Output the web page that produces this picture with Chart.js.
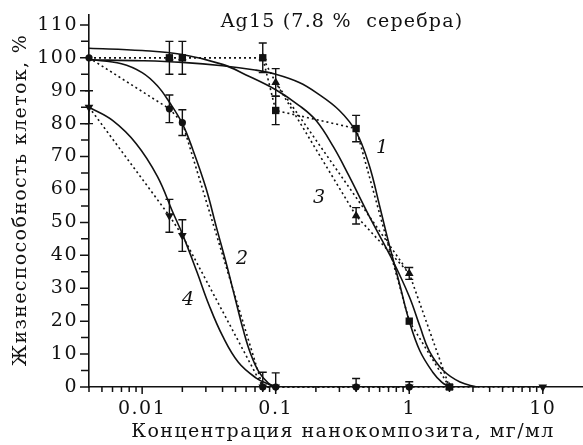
<!DOCTYPE html>
<html><head><meta charset="utf-8">
<script src="https://cdn.jsdelivr.net/npm/chart.js@4"></script>
<style>html,body{margin:0;padding:0;background:#fff;overflow:hidden}canvas{display:block}</style>
</head><body><canvas id="c" width="583" height="445" style="width:583px;height:445px"></canvas>
<script>
// ---- data ----
const conc  = [0.004, 0.016, 0.02, 0.08, 0.1, 0.4, 1, 2, 10];
const viab1 = [100, 100, 100, 100, 84, 78.5, 20, 0];          // squares (1)
const err1  = [0, 5, 5, 4.5, 4.3, 4, 0, 0];
const viab2 = [100, 84.5, 80.3, 0, 0, 0, 0];                  // circles (2)
const err2  = [0, 4.2, 3.9, 4.5, 4.3, 2.6, 1.6];
const viab3 = [100, 100, 100, 100, 92.5, 52, 34.5, 0];        // triangles (3)
const err3  = [0, 0, 0, 0, 4.2, 2.5, 1.8, 0];
const conc3b = [0.1, 1];
const viab3b = [92.5, 34.5];                                   // second dotted link of series 3
const viab4 = [85, 52, 46, 0, 0, 0, 0, 0, 0];                 // inverted triangles (4)
const err4  = [5, 5, 4.8, 0, 0, 0, 0, 0, 0];

const fit1X = [0.004, 0.01, 0.02, 0.04, 0.07, 0.1, 0.15, 0.2, 0.3, 0.4, 0.5, 0.6, 0.7, 0.85, 1.0, 1.2, 1.5, 1.75, 2.0];
const fit1Y = [99.4, 99.1, 98.6, 97.6, 96.3, 95, 92.5, 89.5, 84, 77.5, 67.5, 55, 44, 31, 20, 11, 4.5, 1.5, 0];
const fit2X = [0.004, 0.007, 0.01, 0.013, 0.016, 0.02, 0.024, 0.03, 0.036, 0.043, 0.05, 0.057, 0.065, 0.075, 0.088, 0.1];
const fit2Y = [99.5, 98.2, 95.5, 91.5, 86.5, 80, 72, 60.5, 48.5, 37, 26.5, 17.5, 10, 4.5, 1.2, 0];
const fit3X = [0.004, 0.01, 0.02, 0.04, 0.06, 0.1, 0.15, 0.2, 0.27, 0.35, 0.5, 0.75, 1.0, 1.2, 1.41, 1.8, 2.4, 3.2];
const fit3Y = [102.9, 102.2, 101, 98, 94.8, 90.3, 85.5, 81, 73, 64.5, 52, 38.5, 27.5, 18.5, 11, 5, 1.5, 0];
const fit4X = [0.004, 0.006, 0.009, 0.013, 0.017, 0.02, 0.0257, 0.0316, 0.04, 0.0525, 0.071, 0.09, 0.1];
const fit4Y = [85, 81, 74, 64, 53, 46.5, 35, 25, 15.5, 7.5, 2.8, 0.7, 0];

const xTickValues = [0.01, 0.1, 1, 10];
const xTickLabels = ['0.01', '0.1', '1', '10'];
const xMinorTicks = [0.004,0.005,0.006,0.007,0.008,0.009,0.02,0.03,0.04,0.05,0.06,0.07,0.08,0.09,
                     0.2,0.3,0.4,0.5,0.6,0.7,0.8,0.9,2,3,4,5,6,7,8,9];
const yTickValues = [0, 10, 20, 30, 40, 50, 60, 70, 80, 90, 100, 110];
const yMinorTicks = [5, 15, 25, 35, 45, 55, 65, 75, 85, 95, 105];

const curveNames = ['1', '2', '3', '4'];
const titleText = 'Ag15 (7.8 %  серебра)';
const xTitle = 'Концентрация нанокомпозита, мг/мл';
const yTitle = 'Жизнеспособность клеток, %';

// ---- helpers ----
const pts = (xs, ys) => ys.map((y, i) => ({x: xs[i], y}));
const FONT = '"DejaVu Serif", serif';

const labelAnchors = [ // data-space anchors for curve numbers
  {t: curveNames[0], x: 0.625, y: 72.5},
  {t: curveNames[1], x: 0.056, y: 39},
  {t: curveNames[2], x: 0.211, y: 57.5},
  {t: curveNames[3], x: 0.0221, y: 26.5}
];

const errorSets = [
  {xs: conc, ys: viab1, es: err1},
  {xs: conc, ys: viab2, es: err2},
  {xs: conc, ys: viab3, es: err3},
  {xs: conc, ys: viab4, es: err4}
];

const extras = {
  id: 'extras',
  beforeDraw(chart) { chart.ctx.letterSpacing = '1.5px'; },
  beforeDatasetsDraw(chart) {
    const {ctx, chartArea: a, scales: {x, y}} = chart;
    ctx.save();
    ctx.beginPath();
    ctx.rect(a.left - 20, 0, a.right - a.left + 40, a.bottom);
    ctx.clip();
    ctx.strokeStyle = '#111';
    ctx.lineWidth = 1.4;
    errorSets.forEach(s => {
      s.ys.forEach((v, i) => {
        const e = s.es[i];
        if (!e) return;
        const px = x.getPixelForValue(s.xs[i]);
        const t = y.getPixelForValue(v + e), b = y.getPixelForValue(v - e);
        ctx.beginPath();
        ctx.moveTo(px, t); ctx.lineTo(px, b);
        ctx.moveTo(px - 4, t); ctx.lineTo(px + 4, t);
        ctx.moveTo(px - 4, b); ctx.lineTo(px + 4, b);
        ctx.stroke();
      });
    });
    ctx.restore();
  },
  afterDraw(chart) {
    const {ctx, chartArea: a, scales: {x, y}} = chart;
    ctx.save();
    ctx.strokeStyle = '#111';
    ctx.lineWidth = 1.5;
    ctx.beginPath();
    xTickValues.forEach(v => { const p = x.getPixelForValue(v); ctx.moveTo(p, a.bottom); ctx.lineTo(p, a.bottom + 7); });
    xMinorTicks.forEach(v => { const p = x.getPixelForValue(v); ctx.moveTo(p, a.bottom); ctx.lineTo(p, a.bottom + 5); });
    yTickValues.forEach(v => { const p = y.getPixelForValue(v); ctx.moveTo(a.left, p); ctx.lineTo(a.left - 9, p); });
    yMinorTicks.forEach(v => { const p = y.getPixelForValue(v); ctx.moveTo(a.left, p); ctx.lineTo(a.left - 8, p); });
    ctx.stroke();

    ctx.fillStyle = '#111';
    ctx.textAlign = 'center';
    ctx.textBaseline = 'middle';
    ctx.letterSpacing = '0px';
    ctx.font = 'italic 19px ' + FONT;
    labelAnchors.forEach(l => ctx.fillText(l.t, x.getPixelForValue(l.x), y.getPixelForValue(l.y)));

    ctx.font = '19px ' + FONT;
    ctx.letterSpacing = '1.2px';
    ctx.fillText(titleText, 342, 22);
    ctx.letterSpacing = '1.4px';
    ctx.fillText(xTitle, 343, 432);
    ctx.translate(21, 200);
    ctx.rotate(-Math.PI / 2);
    ctx.letterSpacing = '1.35px';
    ctx.fillText(yTitle, 0, 0);
    ctx.restore();
  }
};

const marker = (label, xs, ys, style, rot, r, hideFirst) => ({
  label, data: pts(xs, ys), showLine: true,
  borderColor: '#111', borderWidth: 1.6, borderDash: [2, 3],
  pointStyle: style, rotation: rot,
  pointRadius: ctx => (hideFirst && ctx.dataIndex === 0) ? 0 : r,
  pointBackgroundColor: '#111', pointBorderColor: '#111', pointBorderWidth: 0,
  clip: false
});
const fit = (label, xs, ys) => ({
  label, data: pts(xs, ys), showLine: true,
  borderColor: '#111', borderWidth: 1.6, pointRadius: 0,
  tension: 0.4, clip: false
});

new Chart(document.getElementById('c'), {
  type: 'scatter',
  data: {
    datasets: [
      marker('2', conc, viab2, 'circle', 0, 3.6, false),
      marker('1', conc, viab1, 'rect', 0, 5.2, true),
      marker('3', conc, viab3, 'triangle', 0, 5, true),
      marker('3b', conc3b, viab3b, 'triangle', 0, 0, false),
      marker('4', conc, viab4, 'triangle', 180, 5, false),
      fit('f1', fit1X, fit1Y),
      fit('f2', fit2X, fit2Y),
      fit('f3', fit3X, fit3Y),
      fit('f4', fit4X, fit4Y)
    ]
  },
  options: {
    responsive: false, animation: false,
    devicePixelRatio: 1,
    layout: {autoPadding: false, padding: {top: 15, right: 0, left: 0, bottom: 0}},
    plugins: {legend: {display: false}, tooltip: {enabled: false}, title: {display: false}},
    scales: {
      x: {
        type: 'logarithmic', min: 0.004, max: 20,
        grid: {display: false, drawTicks: false},
        border: {display: true, color: '#111', width: 1.6},
        afterBuildTicks: s => { s.ticks = xTickValues.map(v => ({value: v})); },
        afterFit: s => { s.height = 58; s.paddingLeft = 0; s.paddingRight = 0; },
        ticks: {
          autoSkip: false, maxRotation: 0, padding: 11, color: '#111',
          font: {family: FONT, size: 19},
          callback: v => { const i = xTickValues.indexOf(v); return i >= 0 ? xTickLabels[i] : ''; }
        }
      },
      y: {
        min: 0, max: 113,
        grid: {display: false, drawTicks: false},
        border: {display: true, color: '#111', width: 1.6},
        afterBuildTicks: s => { s.ticks = yTickValues.map(v => ({value: v})); },
        afterFit: s => { s.width = 89; s.paddingTop = 0; s.paddingBottom = 0; },
        ticks: {autoSkip: false, padding: 11, color: '#111', font: {family: FONT, size: 19}}
      }
    }
  },
  plugins: [extras]
});
</script></body></html>
